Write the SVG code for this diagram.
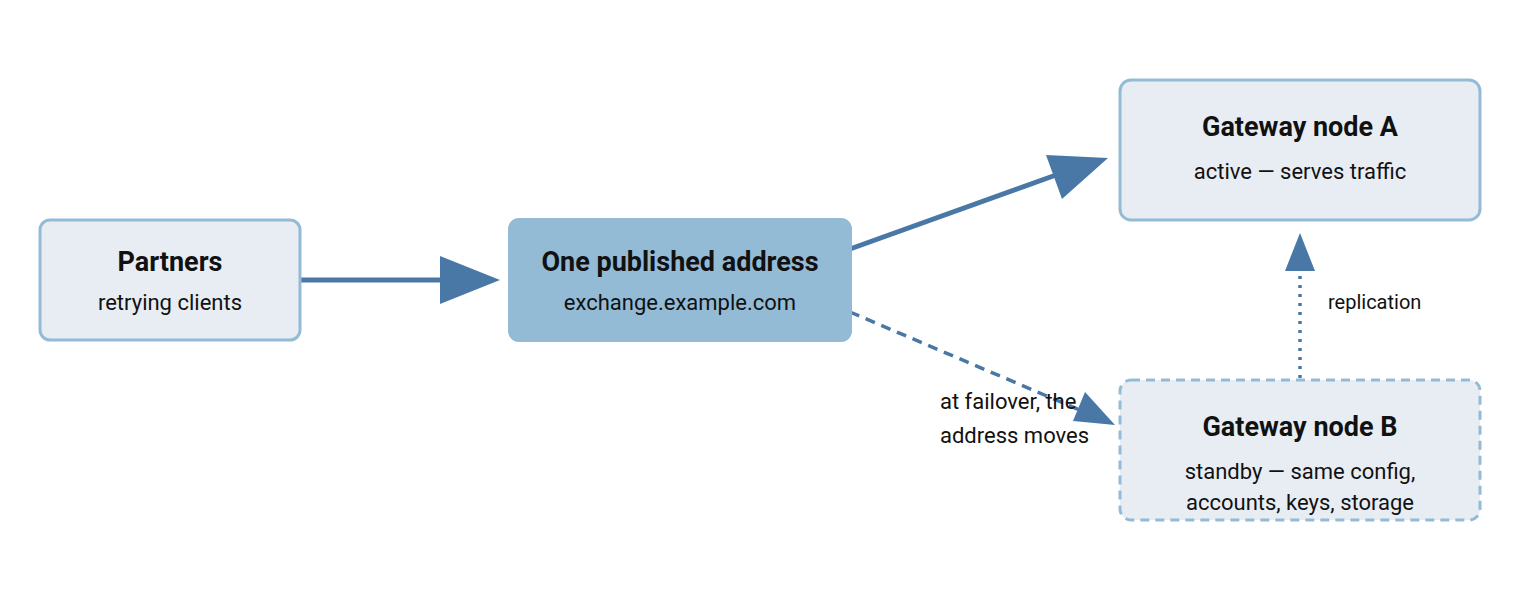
<svg xmlns="http://www.w3.org/2000/svg" width="1520" height="600" viewBox="0 0 1520 600">
<style>
text{font-family:Roboto,"Liberation Sans",sans-serif;fill:#111;text-anchor:middle}
.t{font-size:27px;font-weight:bold}
.s{font-size:22px}
.l{font-size:22px;text-anchor:start}
.box{fill:#e8edf4;stroke:#93bbd6;stroke-width:3}
.c{stroke:#4a78a6;fill:none}
.h{fill:#4a78a6}
</style>
<rect width="1520" height="600" fill="#fff"/>
<g id="connectors">
<line class="c" x1="300" y1="280" x2="442" y2="280" stroke-width="5"/>
<polygon class="h" points="440,256 500,280 440,304"/>
<line class="c" x1="850" y1="249" x2="1056" y2="175" stroke-width="5"/>
<polygon class="h" points="1046,155 1108,158 1062,199"/>
<line class="c" x1="850" y1="312" x2="1082" y2="411" stroke-width="3.5" stroke-dasharray="10,7"/>
<polygon class="h" points="1085,392 1115,425 1073,421"/>
<line class="c" x1="1300" y1="378" x2="1300" y2="270" stroke-width="3.5" stroke-dasharray="3,6"/>
<polygon class="h" points="1285,271 1300,233 1315,271"/>
<text class="l" x="1328" y="309" font-size="20" style="font-size:20px">replication</text>
<text class="l" x="940" y="409">at failover, the</text>
<text class="l" x="940" y="443">address moves</text>
</g>
<g id="partners">
<rect class="box" x="40" y="220" width="260" height="120" rx="10"/>
<text class="t" x="170" y="271">Partners</text>
<text class="s" x="170" y="310">retrying clients</text>
</g>
<g id="address">
<rect x="508" y="218" width="344" height="124" rx="11" fill="#93bbd6"/>
<text class="t" x="680" y="271">One published address</text>
<text class="s" x="680" y="310">exchange.example.com</text>
</g>
<g id="nodeA">
<rect class="box" x="1120" y="80" width="360" height="140" rx="11"/>
<text class="t" x="1300" y="136">Gateway node A</text>
<text class="s" x="1300" y="179">active — serves traffic</text>
</g>
<g id="nodeB">
<rect class="box" x="1120" y="380" width="360" height="140" rx="11" stroke-dasharray="9,6"/>
<text class="t" x="1300" y="436">Gateway node B</text>
<text class="s" x="1300" y="479">standby — same config,</text>
<text class="s" x="1300" y="510">accounts, keys, storage</text>
</g>
</svg>
